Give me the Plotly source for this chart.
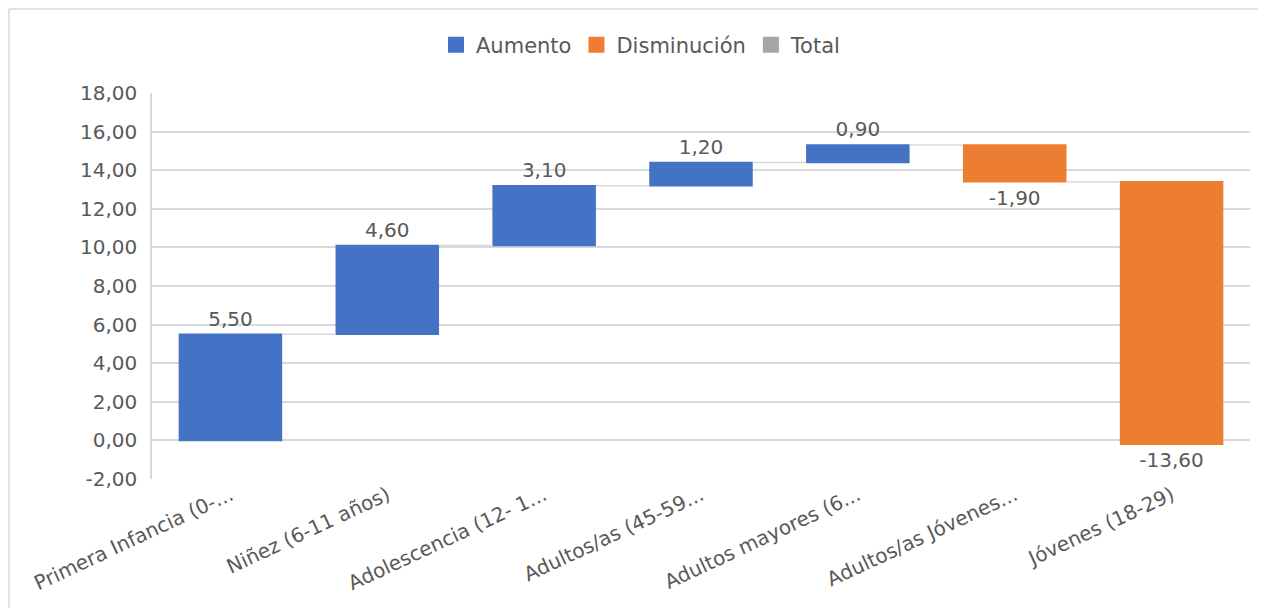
import plotly.graph_objects as go
import numpy as np

categories = [
    "Primera Infancia (0-...",
    "Niñez (6-11 años)",
    "Adolescencia (12- 1...",
    "Adultos/as (45-59...",
    "Adultos mayores (6...",
    "Adultos/as Jóvenes...",
    "Jóvenes (18-29)",
]
values = [5.50, 4.60, 3.10, 1.20, 0.90, -1.90, -13.60]
measures = ["relative"] * len(values)

legend_names = ["Aumento", "Disminución", "Total"]
legend_colors = ["#4472C4", "#ED7D31", "#A5A5A5"]

y_ticks = list(np.arange(-2, 19, 2))


def fmt(v):
    return f"{v:.2f}".replace(".", ",")


labels = [fmt(v) for v in values]
tick_text = [fmt(v) for v in y_ticks]

FONT = "DejaVu Sans"
TXT = "#595959"
GRID = "#D9D9D9"
FS = 20

# page body has an 8px margin; figure pixel = reference pixel - 8
W, H = 1258, 600
L, T = 144, 85
R = W - 1242
B = H - 471
pw = W - L - R
ph = H - T - B

fig = go.Figure()
fig.add_trace(go.Waterfall(
    x=categories,
    y=values,
    measure=measures,
    text=labels,
    textposition="outside",
    textfont=dict(family=FONT, size=FS, color=TXT),
    increasing=dict(marker=dict(color=legend_colors[0])),
    decreasing=dict(marker=dict(color=legend_colors[1])),
    totals=dict(marker=dict(color=legend_colors[2])),
    connector=dict(line=dict(color=GRID, width=1.5), mode="between"),
    showlegend=False,
    cliponaxis=False,
    hoverinfo="x+y",
))
for name, col in zip(legend_names, legend_colors):
    fig.add_trace(go.Scatter(x=[None], y=[None], name=name, mode="markers",
                             marker=dict(symbol="square", size=16, color=col),
                             showlegend=True))

fig.update_layout(
    width=W, height=H,
    margin=dict(l=L, r=R, t=T, b=B, autoexpand=False),
    paper_bgcolor="white",
    plot_bgcolor="white",
    font=dict(family=FONT, size=FS, color=TXT),
    waterfallgap=0.34,
    legend=dict(
        orientation="h",
        x=(633 - L) / pw, xanchor="center",
        y=1 + (T - 37) / ph, yanchor="middle",
        font=dict(family=FONT, size=21, color=TXT),
        itemwidth=30,
        traceorder="normal",
    ),
    xaxis=dict(
        type="category",
        tickangle=-25,
        showgrid=False,
        showline=False,
        ticks="",
        tickfont=dict(family=FONT, size=FS, color=TXT),
    ),
    yaxis=dict(
        range=[-2, 18],
        tickvals=y_ticks,
        ticktext=tick_text,
        showgrid=True,
        gridcolor=GRID,
        gridwidth=1.5,
        zeroline=False,
        showline=True,
        linecolor=GRID,
        linewidth=1.5,
        ticks="",
        ticklabelstandoff=9,
        tickfont=dict(family=FONT, size=FS, color=TXT),
    ),
    shapes=[
        dict(type="line", xref="paper", yref="paper",
             x0=(1 - L) / pw, x1=(W - L) / pw,
             y0=1 + (T - 1) / ph, y1=1 + (T - 1) / ph,
             line=dict(color=GRID, width=1.5)),
        dict(type="line", xref="paper", yref="paper",
             x0=(1 - L) / pw, x1=(1 - L) / pw,
             y0=1 + (T - 1) / ph, y1=-B / ph,
             line=dict(color=GRID, width=1.5)),
    ],
)

fig.write_html("out.html")
